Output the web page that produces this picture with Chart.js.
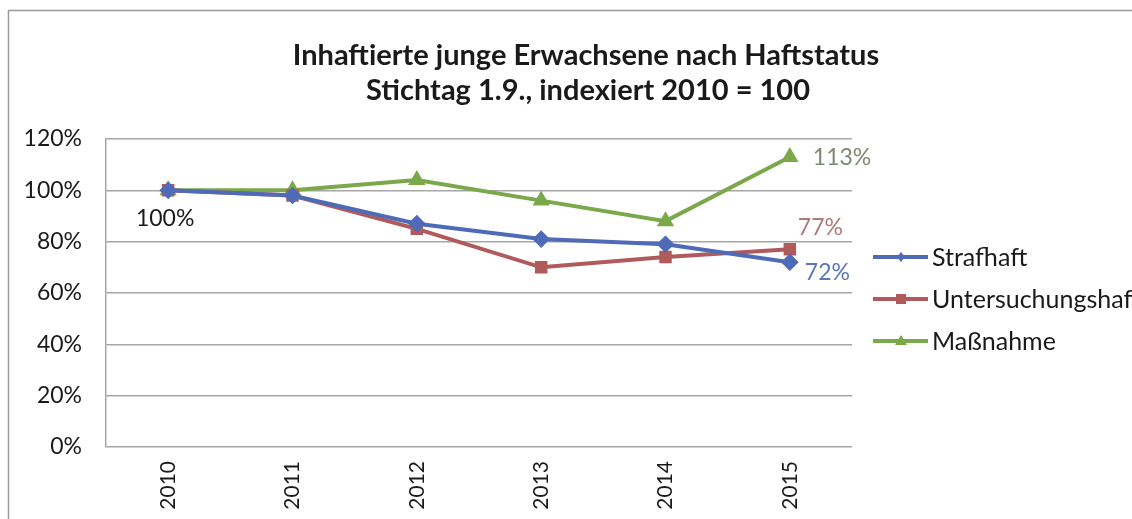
<!DOCTYPE html>
<html><head><meta charset="utf-8">
<script src="https://cdn.jsdelivr.net/npm/chart.js@4/dist/chart.umd.min.js"></script>
<style>html,body{margin:0;padding:0;background:#fff;overflow:hidden}#wrap{width:1132px;height:519px}</style>
</head><body><div id="wrap"><canvas id="c" width="1132" height="519"></canvas></div>
<script>
const categories = ['2010','2011','2012','2013','2014','2015'];
const strafhaft = [100, 98, 87, 81, 79, 72];
const untersuchungshaft = [100, 98, 85, 70, 74, 77];
const massnahme = [100, 100, 104, 96, 88, 113];
const seriesNames = ['Strafhaft', 'Untersuchungshaft', 'Maßnahme'];
const yTicks = [0, 20, 40, 60, 80, 100, 120];
const titleLines = ['Inhaftierte junge Erwachsene nach Haftstatus', 'Stichtag 1.9., indexiert 2010 = 100'];

const colors = ['#4f6bb8', '#b05a5c', '#7aa84a'];
const styles = ['rectRot', 'rect', 'triangle'];
const FONT = 'Lato, "Open Sans", sans-serif';

const deco = {
  id: 'deco',
  beforeDraw(chart) {
    const ctx = chart.ctx;
    ctx.save();
    ctx.strokeStyle = '#9a9a9a';
    ctx.lineWidth = 1.5;
    ctx.strokeRect(8.5, 10.5, 1300, 700);
    ctx.restore();
  },
  afterDraw(chart) {
    const ctx = chart.ctx;
    ctx.save();
    // title
    ctx.fillStyle = '#1a1a1a';
    ctx.font = 'bold 29px ' + FONT;
    ctx.textAlign = 'center';
    ctx.textBaseline = 'alphabetic';
    ctx.fillText(titleLines[0], 586, 65);
    ctx.fillText(titleLines[1], 588, 100);
    // data labels
    const lab = (di, idx, text, color, dx, dy, align) => {
      const p = chart.getDatasetMeta(di).data[idx];
      ctx.fillStyle = color;
      ctx.font = '23px ' + FONT;
      ctx.textAlign = align;
      ctx.textBaseline = 'middle';
      ctx.fillText(text, p.x + dx, p.y + dy);
    };
    const n = categories.length - 1;
    lab(0, 0, strafhaft[0] + '%', '#1a1a1a', -3, 28, 'center');
    lab(2, n, massnahme[n] + '%', '#7d8a72', 23, 1, 'left');
    lab(1, n, untersuchungshaft[n] + '%', '#b07878', 8, -22, 'left');
    lab(0, n, strafhaft[n] + '%', '#5a76bd', 15, 10, 'left');
    // legend
    const lx = 873, ys = [257, 299, 341];
    seriesNames.forEach((name, i) => {
      const y = ys[i];
      ctx.strokeStyle = colors[i];
      ctx.lineWidth = 4;
      ctx.beginPath(); ctx.moveTo(lx, y); ctx.lineTo(lx + 55, y); ctx.stroke();
      ctx.fillStyle = colors[i];
      const cx = lx + 28;
      ctx.beginPath();
      if (i === 0) { ctx.moveTo(cx, y - 5); ctx.lineTo(cx + 4, y); ctx.lineTo(cx, y + 5); ctx.lineTo(cx - 4, y); }
      else if (i === 1) { ctx.rect(cx - 5, y - 5, 10, 10); }
      else { ctx.moveTo(cx, y - 6); ctx.lineTo(cx + 6, y + 4); ctx.lineTo(cx - 6, y + 4); }
      ctx.closePath(); ctx.fill();
      ctx.fillStyle = '#1a1a1a';
      ctx.font = '25px ' + FONT;
      ctx.textAlign = 'left';
      ctx.textBaseline = 'middle';
      ctx.fillText(name, lx + 59, y + 1);
    });
    ctx.restore();
  }
};

const dataSeries = [strafhaft, untersuchungshaft, massnahme];
new Chart(document.getElementById('c'), {
  type: 'line',
  data: {
    labels: categories,
    datasets: dataSeries.map((d, i) => ({
      label: seriesNames[i],
      data: d,
      borderColor: colors[i],
      backgroundColor: colors[i],
      borderWidth: 4,
      pointStyle: styles[i],
      pointRadius: 6,
      pointHoverRadius: 6,
      tension: 0,
      fill: false
    }))
  },
  options: {
    responsive: false,
    animation: false,
    events: [],
    layout: { padding: { top: 139, left: 0, right: 280, bottom: 0 } },
    plugins: { legend: { display: false }, title: { display: false }, tooltip: { enabled: false } },
    scales: {
      x: {
        offset: true,
        grid: { display: false, drawTicks: false },
        border: { display: false },
        ticks: { color: '#1a1a1a', font: { size: 21, family: FONT }, minRotation: 90, maxRotation: 90, padding: 14 },
        afterFit(s) { s.height = 72; }
      },
      y: {
        min: 0, max: 120,
        afterBuildTicks(s) { s.ticks = yTicks.map(v => ({ value: v })); },
        grid: { color: '#a6a6a6', lineWidth: 1.5, drawTicks: false },
        border: { display: true, color: '#a6a6a6', width: 1.5 },
        ticks: { color: '#1a1a1a', font: { size: 23, family: FONT }, padding: 24, callback: v => v + '%' },
        afterFit(s) { s.width = 106; }
      }
    }
  },
  plugins: [deco]
});
</script>
</body></html>
